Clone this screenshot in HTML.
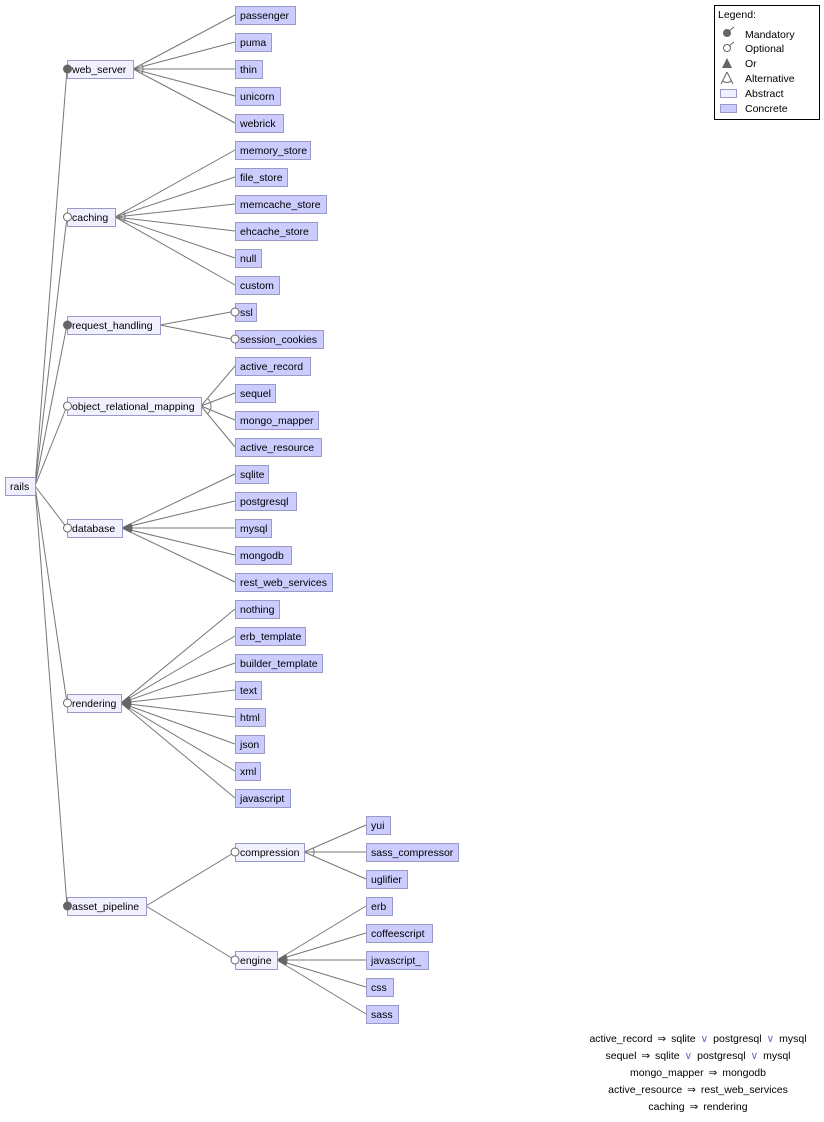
<!DOCTYPE html>
<html><head><meta charset="utf-8"><style>
body{margin:0;background:#fff;}
svg text{font-family:"Liberation Sans",sans-serif;font-size:10.5px;fill:#000;}
.a{fill:#f0f0ff;stroke:#9a9ac8;stroke-width:1}
.c{fill:#ccccff;stroke:#9a9ac8;stroke-width:1}
.l{stroke:#777;stroke-width:1;fill:none}
</style></head><body>
<svg width="824" height="1117" xmlns="http://www.w3.org/2000/svg">
<g class="l">
<line x1="35" y1="486" x2="67" y2="69"/><line x1="35" y1="486" x2="67" y2="217"/><line x1="35" y1="486" x2="67" y2="325"/><line x1="35" y1="486" x2="67" y2="406"/><line x1="35" y1="486" x2="67" y2="528"/><line x1="35" y1="486" x2="67" y2="703"/><line x1="35" y1="486" x2="67" y2="906"/>
<line x1="133" y1="69" x2="235" y2="15"/><line x1="133" y1="69" x2="235" y2="42"/><line x1="133" y1="69" x2="235" y2="69"/><line x1="133" y1="69" x2="235" y2="96"/><line x1="133" y1="69" x2="235" y2="123"/>
<line x1="115" y1="217" x2="235" y2="150"/><line x1="115" y1="217" x2="235" y2="177"/><line x1="115" y1="217" x2="235" y2="204"/><line x1="115" y1="217" x2="235" y2="231"/><line x1="115" y1="217" x2="235" y2="258"/><line x1="115" y1="217" x2="235" y2="285"/>
<line x1="160" y1="325" x2="231" y2="312"/><line x1="160" y1="325" x2="231" y2="339"/>
<line x1="201" y1="406" x2="235" y2="366"/><line x1="201" y1="406" x2="235" y2="393"/><line x1="201" y1="406" x2="235" y2="420"/><line x1="201" y1="406" x2="235" y2="447"/>
<line x1="122" y1="528" x2="235" y2="474"/><line x1="122" y1="528" x2="235" y2="501"/><line x1="122" y1="528" x2="235" y2="528"/><line x1="122" y1="528" x2="235" y2="555"/><line x1="122" y1="528" x2="235" y2="582"/>
<line x1="121" y1="703" x2="235" y2="609"/><line x1="121" y1="703" x2="235" y2="636"/><line x1="121" y1="703" x2="235" y2="663"/><line x1="121" y1="703" x2="235" y2="690"/><line x1="121" y1="703" x2="235" y2="717"/><line x1="121" y1="703" x2="235" y2="744"/><line x1="121" y1="703" x2="235" y2="771"/><line x1="121" y1="703" x2="235" y2="798"/>
<line x1="146" y1="906" x2="235" y2="852"/><line x1="146" y1="906" x2="235" y2="960"/>
<line x1="304" y1="852" x2="366" y2="825"/><line x1="304" y1="852" x2="366" y2="852"/><line x1="304" y1="852" x2="366" y2="879"/>
<line x1="277" y1="960" x2="366" y2="906"/><line x1="277" y1="960" x2="366" y2="933"/><line x1="277" y1="960" x2="366" y2="960"/><line x1="277" y1="960" x2="366" y2="987"/><line x1="277" y1="960" x2="366" y2="1014"/>
<path d="M141.8,64.3 A10 10 0 0 1 141.8,73.7"/>
<path d="M123.7,212.1 A10 10 0 0 1 123.7,221.9"/>
<path d="M207.5,398.4 A10 10 0 0 1 207.4,413.7"/>
<path d="M313.2,848 A10 10 0 0 1 313.2,856"/>
</g>
<g fill="#666" stroke="#666">
<path d="M122,528 L131,523.7 A10 10 0 0 1 131,532.3 Z"/>
<path d="M121,703 L128.7,696.6 A10 10 0 0 1 128.7,709.4 Z"/>
<path d="M277,960 L285.6,954.8 A10 10 0 0 1 285.6,965.2 Z"/>
</g>
<rect class="a" x="5.5" y="477.5" width="30" height="18"/><text x="10" y="490">rails</text>
<rect class="a" x="67.5" y="60.5" width="66" height="18"/><text x="72" y="73">web_server</text>
<rect class="a" x="67.5" y="208.5" width="48" height="18"/><text x="72" y="221">caching</text>
<rect class="a" x="67.5" y="316.5" width="93" height="18"/><text x="72" y="329">request_handling</text>
<rect class="a" x="67.5" y="397.5" width="134" height="18"/><text x="72" y="410">object_relational_mapping</text>
<rect class="a" x="67.5" y="519.5" width="55" height="18"/><text x="72" y="532">database</text>
<rect class="a" x="67.5" y="694.5" width="54" height="18"/><text x="72" y="707">rendering</text>
<rect class="a" x="67.5" y="897.5" width="79" height="18"/><text x="72" y="910">asset_pipeline</text>
<rect class="a" x="235.5" y="843.5" width="69" height="18"/><text x="240" y="856">compression</text>
<rect class="a" x="235.5" y="951.5" width="42" height="18"/><text x="240" y="964">engine</text>

<rect class="c" x="235.5" y="6.5" width="60" height="18"/><text x="240" y="19">passenger</text>
<rect class="c" x="235.5" y="33.5" width="36" height="18"/><text x="240" y="46">puma</text>
<rect class="c" x="235.5" y="60.5" width="27" height="18"/><text x="240" y="73">thin</text>
<rect class="c" x="235.5" y="87.5" width="45" height="18"/><text x="240" y="100">unicorn</text>
<rect class="c" x="235.5" y="114.5" width="48" height="18"/><text x="240" y="127">webrick</text>
<rect class="c" x="235.5" y="141.5" width="75" height="18"/><text x="240" y="154">memory_store</text>
<rect class="c" x="235.5" y="168.5" width="52" height="18"/><text x="240" y="181">file_store</text>
<rect class="c" x="235.5" y="195.5" width="91" height="18"/><text x="240" y="208">memcache_store</text>
<rect class="c" x="235.5" y="222.5" width="82" height="18"/><text x="240" y="235">ehcache_store</text>
<rect class="c" x="235.5" y="249.5" width="26" height="18"/><text x="240" y="262">null</text>
<rect class="c" x="235.5" y="276.5" width="44" height="18"/><text x="240" y="289">custom</text>
<rect class="c" x="235.5" y="303.5" width="21" height="18"/><text x="240" y="316">ssl</text>
<rect class="c" x="235.5" y="330.5" width="88" height="18"/><text x="240" y="343">session_cookies</text>
<rect class="c" x="235.5" y="357.5" width="75" height="18"/><text x="240" y="370">active_record</text>
<rect class="c" x="235.5" y="384.5" width="40" height="18"/><text x="240" y="397">sequel</text>
<rect class="c" x="235.5" y="411.5" width="83" height="18"/><text x="240" y="424">mongo_mapper</text>
<rect class="c" x="235.5" y="438.5" width="86" height="18"/><text x="240" y="451">active_resource</text>
<rect class="c" x="235.5" y="465.5" width="33" height="18"/><text x="240" y="478">sqlite</text>
<rect class="c" x="235.5" y="492.5" width="61" height="18"/><text x="240" y="505">postgresql</text>
<rect class="c" x="235.5" y="519.5" width="36" height="18"/><text x="240" y="532">mysql</text>
<rect class="c" x="235.5" y="546.5" width="56" height="18"/><text x="240" y="559">mongodb</text>
<rect class="c" x="235.5" y="573.5" width="97" height="18"/><text x="240" y="586">rest_web_services</text>
<rect class="c" x="235.5" y="600.5" width="44" height="18"/><text x="240" y="613">nothing</text>
<rect class="c" x="235.5" y="627.5" width="70" height="18"/><text x="240" y="640">erb_template</text>
<rect class="c" x="235.5" y="654.5" width="87" height="18"/><text x="240" y="667">builder_template</text>
<rect class="c" x="235.5" y="681.5" width="26" height="18"/><text x="240" y="694">text</text>
<rect class="c" x="235.5" y="708.5" width="30" height="18"/><text x="240" y="721">html</text>
<rect class="c" x="235.5" y="735.5" width="29" height="18"/><text x="240" y="748">json</text>
<rect class="c" x="235.5" y="762.5" width="25" height="18"/><text x="240" y="775">xml</text>
<rect class="c" x="235.5" y="789.5" width="55" height="18"/><text x="240" y="802">javascript</text>
<rect class="c" x="366.5" y="816.5" width="24" height="18"/><text x="371" y="829">yui</text>
<rect class="c" x="366.5" y="843.5" width="92" height="18"/><text x="371" y="856">sass_compressor</text>
<rect class="c" x="366.5" y="870.5" width="41" height="18"/><text x="371" y="883">uglifier</text>
<rect class="c" x="366.5" y="897.5" width="26" height="18"/><text x="371" y="910">erb</text>
<rect class="c" x="366.5" y="924.5" width="66" height="18"/><text x="371" y="937">coffeescript</text>
<rect class="c" x="366.5" y="951.5" width="62" height="18"/><text x="371" y="964">javascript_</text>
<rect class="c" x="366.5" y="978.5" width="27" height="18"/><text x="371" y="991">css</text>
<rect class="c" x="366.5" y="1005.5" width="32" height="18"/><text x="371" y="1018">sass</text>
<g stroke="#666" stroke-width="1">
<circle cx="67.5" cy="69" r="4" fill="#666"/>
<circle cx="67.5" cy="217" r="4" fill="#fff"/>
<circle cx="67.5" cy="325" r="4" fill="#666"/>
<circle cx="67.5" cy="406" r="4" fill="#fff"/>
<circle cx="67.5" cy="528" r="4" fill="#fff"/>
<circle cx="67.5" cy="703" r="4" fill="#fff"/>
<circle cx="67.5" cy="906" r="4" fill="#666"/>
<circle cx="235" cy="312" r="4" fill="#fff"/>
<circle cx="235" cy="339" r="4" fill="#fff"/>
<circle cx="235" cy="852" r="4" fill="#fff"/>
<circle cx="235" cy="960" r="4" fill="#fff"/>
</g>
<rect x="714.5" y="5.5" width="105" height="114" fill="#fff" stroke="#000"/>
<text x="718" y="18">Legend:</text>
<circle cx="727" cy="33" r="4" fill="#666"/><line x1="729" y1="31" x2="734" y2="27" stroke="#666"/>
<circle cx="727" cy="48" r="3.5" fill="#fff" stroke="#666"/><line x1="729" y1="46" x2="734" y2="42" stroke="#666"/>
<path d="M727,58 L722,68 L732,68 Z" fill="#666"/>
<path d="M727,72 L721,84 M727,72 L733,84 M723,81 A6 6 0 0 0 731,81" fill="none" stroke="#666"/>
<rect x="720.5" y="89.5" width="16" height="8" fill="#f0f0ff" stroke="#9a9ac8"/>
<rect x="720.5" y="104.5" width="16" height="8" fill="#ccccff" stroke="#9a9ac8"/>
<text x="745" y="38">Mandatory</text><text x="745" y="52">Optional</text><text x="745" y="67">Or</text><text x="745" y="82">Alternative</text><text x="745" y="97">Abstract</text><text x="745" y="112">Concrete</text>
<g text-anchor="middle" style="word-spacing:2px">
<text x="698" y="1042">active_record  ⇒  sqlite  <tspan fill="#6070c0">∨</tspan>  postgresql  <tspan fill="#6070c0">∨</tspan>  mysql</text>
<text x="698" y="1059">sequel  ⇒  sqlite  <tspan fill="#6070c0">∨</tspan>  postgresql  <tspan fill="#6070c0">∨</tspan>  mysql</text>
<text x="698" y="1076">mongo_mapper  ⇒  mongodb</text>
<text x="698" y="1093">active_resource  ⇒  rest_web_services</text>
<text x="698" y="1110">caching  ⇒  rendering</text>
</g>
</svg>
</body></html>
